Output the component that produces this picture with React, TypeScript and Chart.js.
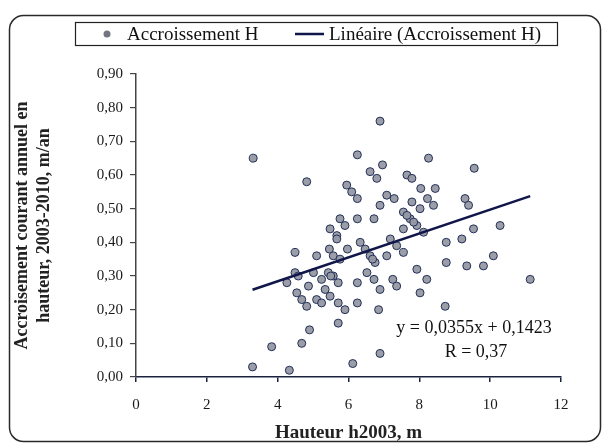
import React, { useEffect, useRef } from 'react';
import { Chart, registerables } from 'chart.js';

Chart.register(...registerables);

const seriesLabel = 'Accroissement H';
const trendLabel = 'Linéaire (Accroissement H)';

const heights = [
  3.31, 4.82, 6.89, 6.25, 6.96, 8.26, 9.55, 6.61, 6.80, 7.65,
  7.79, 5.95, 6.09, 6.25, 7.08, 7.29, 8.04, 8.45, 8.23, 7.79,
  8.02, 8.40, 9.29, 9.39, 6.89, 6.25, 6.72, 5.76, 5.90, 5.48,
  5.67, 7.55, 7.74, 7.93, 8.12, 10.28, 9.53, 7.55, 8.76, 9.20,
  7.18, 7.36, 5.67, 4.49, 5.10, 5.46, 5.57, 5.97, 6.33, 6.47,
  6.61, 6.75, 7.08, 7.55, 10.09, 8.76, 9.34, 9.81, 11.13, 7.93,
  8.21, 8.02, 8.73, 5.76, 4.49, 4.58, 5.01, 4.26, 4.87, 5.24,
  5.43, 5.57, 5.71, 5.34, 5.48, 4.54, 4.68, 4.82, 5.10, 5.24,
  5.71, 5.90, 6.25, 6.52, 6.72, 6.25, 6.89, 7.25, 7.36, 6.85,
  5.71, 4.90, 4.68, 3.83, 6.89, 6.12, 4.33, 3.29, 6.68, 5.50,
  7.65, 7.84,
];

const increments = [
  0.65, 0.58, 0.76, 0.66, 0.63, 0.65, 0.62, 0.61, 0.59, 0.60,
  0.59, 0.57, 0.55, 0.53, 0.54, 0.53, 0.56, 0.56, 0.53, 0.52,
  0.50, 0.51, 0.53, 0.51, 0.51, 0.47, 0.47, 0.47, 0.45, 0.44,
  0.42, 0.49, 0.47, 0.45, 0.43, 0.45, 0.44, 0.44, 0.40, 0.41,
  0.41, 0.39, 0.41, 0.37, 0.36, 0.38, 0.36, 0.38, 0.40, 0.38,
  0.36, 0.34, 0.36, 0.37, 0.36, 0.34, 0.33, 0.33, 0.29, 0.32,
  0.29, 0.25, 0.21, 0.35, 0.31, 0.30, 0.31, 0.28, 0.27, 0.29,
  0.31, 0.30, 0.28, 0.26, 0.24, 0.25, 0.23, 0.21, 0.23, 0.22,
  0.22, 0.20, 0.22, 0.31, 0.29, 0.28, 0.26, 0.29, 0.27, 0.20,
  0.16, 0.14, 0.10, 0.09, 0.07, 0.04, 0.02, 0.03, 0.35, 0.30,
  0.48, 0.46,
];

const trendSlope = 0.0355;
const trendIntercept = 0.1423;
const equationLines = ['y = 0,0355x + 0,1423', 'R = 0,37'];

const xTickLabels = ['0', '2', '4', '6', '8', '10', '12'];
const yTickLabels = ['0,00', '0,10', '0,20', '0,30', '0,40', '0,50', '0,60', '0,70', '0,80', '0,90'];
const xTitle = 'Hauteur h2003, m';
const yTitle = ['Accroisement courant annuel en', 'hauteur, 2003-2010, m/an'];

const SERIF = "'Liberation Serif', 'Times New Roman', serif";
const POINT_FILL = 'rgba(150,152,162,0.95)';
const POINT_BORDER = '#22305a';
const LINE_COLOR = '#10164a';

const decorPlugin = {
  id: 'decor',
  beforeDraw(chart: any) {
    const { ctx, width, height } = chart;
    ctx.save();
    ctx.fillStyle = '#ffffff';
    ctx.fillRect(0, 0, width, height);
    ctx.strokeStyle = '#2a2a2a';
    ctx.lineWidth = 1.5;
    const x = 9.5, y = 15.5, w = 591, h = 426, r = 14;
    ctx.beginPath();
    ctx.moveTo(x + r, y);
    ctx.lineTo(x + w - r, y);
    ctx.arcTo(x + w, y, x + w, y + r, r);
    ctx.lineTo(x + w, y + h - r);
    ctx.arcTo(x + w, y + h, x + w - r, y + h, r);
    ctx.lineTo(x + r, y + h);
    ctx.arcTo(x, y + h, x, y + h - r, r);
    ctx.lineTo(x, y + r);
    ctx.arcTo(x, y, x + r, y, r);
    ctx.closePath();
    ctx.stroke();
    ctx.restore();
  },
  afterDraw(chart: any) {
    const { ctx } = chart;
    ctx.save();
    // legend box
    ctx.strokeStyle = '#222';
    ctx.lineWidth = 1.2;
    ctx.strokeRect(75.5, 22.5, 482, 23);
    const cy = 34;
    ctx.fillStyle = 'rgba(100,102,115,0.9)';
    ctx.beginPath();
    ctx.arc(107, cy, 3.5, 0, Math.PI * 2);
    ctx.fill();
    ctx.font = `19px ${SERIF}`;
    ctx.fillStyle = '#111';
    ctx.textBaseline = 'middle';
    ctx.textAlign = 'left';
    ctx.fillText(chart.data.datasets[0].label, 127, cy + 1);
    ctx.strokeStyle = LINE_COLOR;
    ctx.lineWidth = 2.5;
    ctx.beginPath();
    ctx.moveTo(295, cy);
    ctx.lineTo(324, cy);
    ctx.stroke();
    ctx.fillText(chart.data.datasets[1].label, 329, cy + 1);
    // equation
    ctx.font = `18px ${SERIF}`;
    ctx.textAlign = 'center';
    ctx.fillText(equationLines[0], 474, 328);
    ctx.fillText(equationLines[1], 476, 352);
    ctx.restore();
  },
};

export default function App() {
  const canvasRef = useRef<HTMLCanvasElement | null>(null);

  useEffect(() => {
    document.body.style.margin = '0';
    const canvas = canvasRef.current;
    if (!canvas) return;
    const points = heights.map((h, i) => ({ x: h, y: increments[i] }));
    const hMin = Math.min(...heights);
    const hMax = Math.max(...heights);
    const trend = [
      { x: hMin, y: trendSlope * hMin + trendIntercept },
      { x: hMax, y: trendSlope * hMax + trendIntercept },
    ];
    const tickFont = { family: SERIF, size: 15 };
    const titleFont = { family: SERIF, size: 18, weight: 'bold' as const };
    const chart = new Chart(canvas, {
      type: 'scatter',
      data: {
        datasets: [
          {
            label: seriesLabel,
            data: points,
            pointStyle: 'circle',
            pointRadius: 4,
            backgroundColor: POINT_FILL,
            borderColor: POINT_BORDER,
            borderWidth: 1,
            order: 2,
          },
          {
            label: trendLabel,
            type: 'line',
            data: trend,
            borderColor: LINE_COLOR,
            borderWidth: 2.5,
            pointRadius: 0,
            fill: false,
            order: 1,
          } as any,
        ],
      },
      options: {
        responsive: false,
        animation: false,
        layout: { padding: { top: 74, right: 44, bottom: 0, left: 0 } },
        plugins: {
          legend: { display: false },
          tooltip: { enabled: false },
        },
        scales: {
          x: {
            type: 'linear',
            min: 0,
            max: 12,
            afterFit: (s: any) => { s.height = 67; },
            ticks: {
              stepSize: 2,
              font: tickFont,
              color: '#1a1a1a',
              padding: 14,
              callback: (_v: any, i: number) => xTickLabels[i],
            },
            grid: { display: true, drawOnChartArea: false, drawTicks: true, tickLength: 5, color: '#1a2240', lineWidth: 1.5 },
            border: { display: true, color: '#1a2240', width: 1.5 },
            title: { display: true, text: xTitle, font: { ...titleFont, size: 19 }, color: '#222', padding: { top: 0, bottom: 0 } },
          },
          y: {
            type: 'linear',
            min: 0,
            max: 0.9,
            afterFit: (s: any) => { s.width = 136; },
            ticks: {
              stepSize: 0.1,
              font: tickFont,
              color: '#1a1a1a',
              padding: 7,
              callback: (_v: any, i: number) => yTickLabels[i],
            },
            grid: { display: true, drawOnChartArea: false, drawTicks: true, tickLength: 6, color: '#444', lineWidth: 1.2 },
            border: { display: true, color: '#444', width: 1.5 },
            title: { display: true, text: yTitle, font: titleFont, color: '#222', padding: { top: 12, bottom: 0 } },
          },
        },
      },
      plugins: [decorPlugin],
    });
    return () => chart.destroy();
  }, []);

  return (
    <div style={{ width: 605, height: 444 }}>
      <canvas ref={canvasRef} width={605} height={444} style={{ display: 'block' }} />
    </div>
  );
}
